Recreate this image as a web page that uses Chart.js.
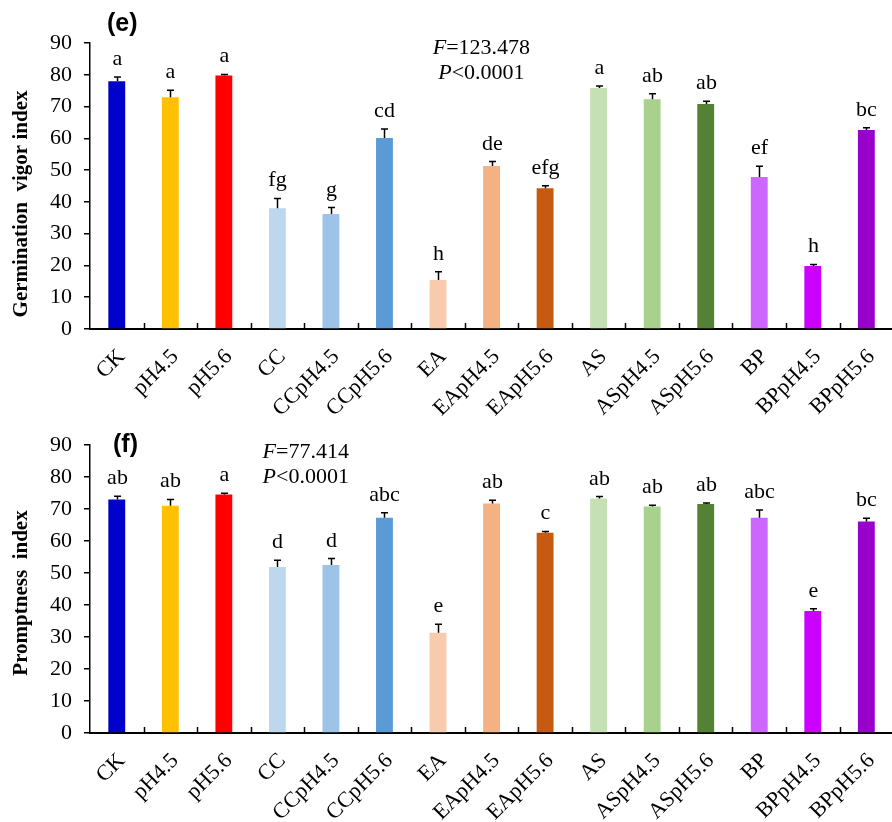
<!DOCTYPE html>
<html>
<head>
<meta charset="utf-8">
<script src="https://cdn.jsdelivr.net/npm/chart.js@4.4.0/dist/chart.umd.min.js"></script>
<style>
  html, body { margin: 0; padding: 0; background: #fff; overflow: hidden; width: 892px; height: 822px; }
  canvas { position: absolute; left: 0; }
  #vigor { top: 0; }
  #prompt { top: 402px; }
</style>
</head>
<body>
<canvas id="vigor" width="900" height="430"></canvas>
<canvas id="prompt" width="900" height="420"></canvas>
<script>
const categories = ["CK", "pH4.5", "pH5.6", "CC", "CCpH4.5", "CCpH5.6", "EA", "EApH4.5", "EApH5.6",
    "AS", "ASpH4.5", "ASpH5.6", "BP", "BPpH4.5", "BPpH5.6"];

const vigorMeans = [78.0, 72.9, 79.8, 38.0, 36.2, 60.1, 15.4, 51.3, 44.3, 75.8, 72.3, 70.8, 47.8, 19.8, 62.6];
const vigorErrors = [1.3, 2.2, 0.3, 3.1, 2.0, 2.8, 2.6, 1.4, 0.8, 0.7, 1.7, 0.9, 3.4, 0.5, 0.7];
const vigorLetters = ["a", "a", "a", "fg", "g", "cd", "h", "de", "efg", "a", "ab", "ab", "ef", "h", "bc"];

const promptMeans = [73.0, 71.0, 74.5, 51.9, 52.5, 67.3, 31.3, 71.7, 62.6, 73.3, 70.8, 71.6, 67.3, 38.1, 66.1];
const promptErrors = [1.0, 2.0, 0.4, 2.1, 2.0, 1.5, 2.7, 1.0, 0.4, 0.6, 0.4, 0.3, 2.4, 0.7, 1.0];
const promptLetters = ["ab", "ab", "a", "d", "d", "abc", "e", "ab", "c", "ab", "ab", "ab", "abc", "e", "bc"];

const yTicks = [0, 10, 20, 30, 40, 50, 60, 70, 80, 90];

const barColors = ["#0000CC", "#FFC000", "#FF0000", "#BDD7EE", "#9DC3E6", "#5B9BD5", "#F8CBAD", "#F4B183",
    "#C55A11", "#C5E0B4", "#A9D18E", "#548235", "#CC66FF", "#CC00FF", "#9900CC"];

const SERIF = "'Liberation Serif', 'Times New Roman', serif";

// F / P text: italic letter followed by the rest, centred on cx
function drawStat(ctx, italic, rest, cx, baseline) {
    ctx.font = "italic 22px " + SERIF;
    const w1 = ctx.measureText(italic).width;
    ctx.font = "22px " + SERIF;
    const w2 = ctx.measureText(rest).width;
    const x0 = cx - (w1 + w2) / 2;
    ctx.textAlign = "left";
    ctx.font = "italic 22px " + SERIF;
    ctx.fillText(italic, x0, baseline);
    ctx.font = "22px " + SERIF;
    ctx.fillText(rest, x0 + w1, baseline);
}

const extras = {
    id: "extras",
    afterDatasetsDraw(chart, args, opts) {
        const ctx = chart.ctx;
        const xs = chart.scales.x, ys = chart.scales.y;
        const area = chart.chartArea;
        ctx.save();
        ctx.strokeStyle = "#000";
        ctx.fillStyle = "#000";

        // tick marks between categories, pointing up
        ctx.lineWidth = 1.5;
        for (let i = 1; i <= categories.length; i++) {
            const px = Math.round(xs.getPixelForValue(i - 0.5)) + 0.5;
            ctx.beginPath();
            ctx.moveTo(px, area.bottom);
            ctx.lineTo(px, area.bottom - 6);
            ctx.stroke();
        }

        // error bars and letters
        ctx.font = "22px " + SERIF;
        ctx.textAlign = "center";
        ctx.textBaseline = "alphabetic";
        opts.means.forEach((m, i) => {
            const px = Math.round(xs.getPixelForValue(i)) + 0.5;
            const base = ys.getPixelForValue(m);
            const top = ys.getPixelForValue(m + opts.errors[i]);
            ctx.beginPath();
            ctx.moveTo(px, base);
            ctx.lineTo(px, top);
            ctx.moveTo(px - 3.5, top);
            ctx.lineTo(px + 3.5, top);
            ctx.stroke();
            ctx.fillText(opts.letters[i], px, top - 12);
        });

        // statistics
        const sx = xs.getPixelForValue(opts.statAt[0]);
        drawStat(ctx, "F", "=" + opts.stat[0], sx, ys.getPixelForValue(opts.statAt[1]));
        drawStat(ctx, "P", "<" + opts.stat[1], sx, ys.getPixelForValue(opts.statAt[2]));

        // panel label
        ctx.font = "bold 25px 'Liberation Sans', Arial, sans-serif";
        ctx.textAlign = "left";
        ctx.fillText(opts.panel, opts.panelAt[0], opts.panelAt[1]);

        // y axis title
        ctx.translate(27, (area.top + area.bottom) / 2 + opts.titleShift);
        ctx.rotate(-Math.PI / 2);
        ctx.font = "bold 21px " + SERIF;
        ctx.textAlign = "center";
        ctx.fillText(opts.title, 0, 0);
        ctx.restore();
    }
};

function makeChart(id, means, errors, letters, xHeight, extra) {
    return new Chart(document.getElementById(id), {
        type: "bar",
        data: {
            labels: categories,
            datasets: [{
                data: means,
                backgroundColor: barColors,
                borderWidth: 0,
                barPercentage: 0.315,
                categoryPercentage: 1
            }]
        },
        options: {
            responsive: false,
            animation: false,
            events: [],
            layout: { padding: { top: 43, left: 0, right: 0, bottom: 0 } },
            plugins: {
                legend: { display: false },
                tooltip: { enabled: false },
                extras: Object.assign({ means, errors, letters }, extra)
            },
            scales: {
                x: {
                    offset: true,
                    grid: { display: false, drawTicks: false },
                    border: { display: true, color: "#000", width: 2 },
                    ticks: {
                        color: "#000",
                        font: { family: SERIF, size: 22 },
                        maxRotation: 45,
                        minRotation: 45,
                        autoSkip: false,
                        padding: 15,
                        labelOffset: 5
                    },
                    afterFit: s => { s.height = xHeight; }
                },
                y: {
                    min: 0,
                    max: 90,
                    grid: { display: true, drawOnChartArea: false, drawTicks: true, tickLength: 6, color: "#000", lineWidth: 1.5 },
                    border: { display: true, color: "#000", width: 1.5 },
                    ticks: {
                        color: "#000",
                        font: { family: SERIF, size: 22 },
                        padding: 12
                    },
                    afterBuildTicks: s => { s.ticks = yTicks.map(v => ({ value: v })); },
                    afterFit: s => { s.width = 90; }
                }
            }
        },
        plugins: [extras]
    });
}

makeChart("vigor", vigorMeans, vigorErrors, vigorLetters, 101, {
    stat: ["123.478", "0.0001"],
    statAt: [6.81, 86.6, 78.7],
    panel: "(e)",
    panelAt: [107, 31],
    title: "Germination  vigor index",
    titleShift: 18
});

makeChart("prompt", promptMeans, promptErrors, promptLetters, 89, {
    stat: ["77.414", "0.0001"],
    statAt: [3.53, 86.0, 78.2],
    panel: "(f)",
    panelAt: [113, 50],
    title: "Promptness  index",
    titleShift: 4
});
</script>
</body>
</html>
